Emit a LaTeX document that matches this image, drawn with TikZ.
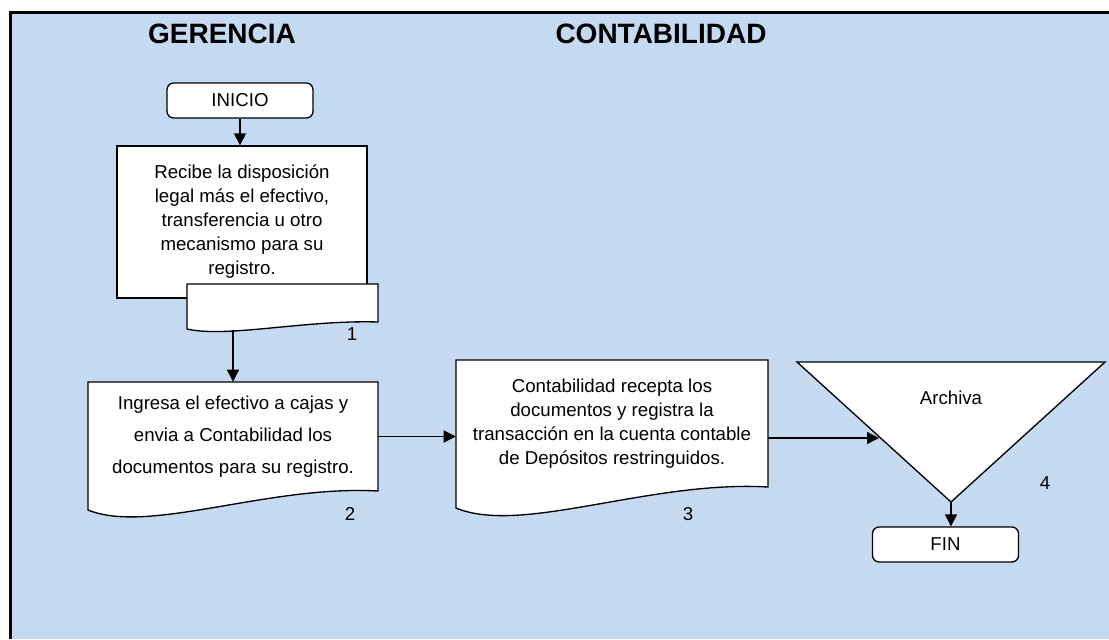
\documentclass[tikz,border=0pt]{standalone}
\usepackage{fontspec}
\setmainfont{Liberation Sans}
\usepackage{tikz}
\usetikzlibrary{arrows.meta,calc,positioning}
\definecolor{carril}{HTML}{C5D9F1}
\tikzset{
  terminal/.style={
    rounded corners=5pt,
    draw=black,
    line width=1pt,
    fill=white,
    font=\fontsize{14}{17}\selectfont,
    minimum width=109.5pt,
    minimum height=26.25pt,
    inner sep=0pt
  },
  proceso/.style={
    draw=black,
    line width=1pt,
    fill=white,
    align=center,
    font=\fontsize{14}{18}\selectfont,
    inner sep=0pt
  },
  docu/.style={draw=none, align=center, font=\fontsize{14}{18}\selectfont, inner sep=0pt},
  docborde/.style={draw=black, line width=1pt, fill=white},
  flecha/.style={line width=1pt, -{Triangle[length=9pt,width=9pt]}},
  titulo/.style={font=\fontsize{21}{24}\selectfont\bfseries},
  numero/.style={font=\fontsize{14}{16}\selectfont}
}
% documento con borde ondulado: [opciones]{nombre}{x}{y}{ancho}{alto}{caida}{texto}
\newcommand{\hojadoc}[8][]{%
  \draw[docborde] (#3-#5/2,#4+#6/2) -- (#3+#5/2,#4+#6/2) -- (#3+#5/2,#4-#6/2)
    .. controls (#3+#5/2-0.38*#5,#4-#6/2+0.33*#7) and (#3+#5/2-0.79*#5,#4-#6/2-2.3*#7)
    .. (#3-#5/2,#4-#6/2-#7) -- cycle;
  \node[docu, minimum width={#5*0.75pt}, minimum height={#6*0.75pt}, #1] (#2) at (#3,#4) {#8};
}

\begin{document}
\begin{tikzpicture}[x=0.75pt,y=0.75pt]
\path[use as bounding box] (0,0) rectangle (1109,-639);
\fill[carril] (10,-12) rectangle (1109,-639);
\draw[line width=2.25pt] (1109,-12) -- (10,-12) -- (10,-639);

\node[titulo] (ger) at (222,-34) {GERENCIA};
\node[titulo] (cont) at (661,-34) {CONTABILIDAD};

\node[terminal] (inicio) at (240,-100.5) {INICIO};
\node[proceso, minimum width=187.5pt, minimum height=114pt] (recibe) at (242,-222)
  {Recibe la disposición\\legal más el efectivo,\\transferencia u otro\\mecanismo para su\\registro.};
\hojadoc{doc1}{282.5}{-303}{191}{38}{7}{}
\node[numero] (n1) at (352,-334) {1};
\coordinate (d1pie) at (233,-330);

\hojadoc[font=\fontsize{14}{24}\selectfont]{doc2}{233}{-436.5}{290}{109}{19}
  {Ingresa el efectivo a cajas y\\envia a Contabilidad los\\documentos para su registro.};
\node[numero] (n2) at (350,-514) {2};

\hojadoc{doc3}{612}{-423.5}{312}{127}{21}
  {Contabilidad recepta los\\documentos y registra la\\transacción en la cuenta contable\\de Depósitos restringuidos.};
\node[numero] (n3) at (688,-514) {3};

\coordinate (t1) at (797,-362);
\coordinate (t2) at (1105,-362);
\coordinate (t3) at (951,-502);
\draw[docborde] (t1) -- (t2) -- (t3) -- cycle;
\node[font=\fontsize{14}{16}\selectfont] (archiva) at (951,-398) {Archiva};
\node[numero] (n4) at (1045,-483) {4};
\coordinate (entrada) at (879,-438);

\node[terminal] (fin) at (945.5,-544.5) {FIN};

\draw[flecha] (inicio.south) -- (inicio.south |- recibe.north);
\draw[flecha] (d1pie) -- (doc2.north);
\draw[flecha] (doc2.east) -- (doc2.east -| doc3.west);
\draw[flecha] (doc3.east |- entrada) -- (entrada);
\draw[flecha] (t3) -- (t3 |- fin.north);

\end{tikzpicture}
\end{document}
